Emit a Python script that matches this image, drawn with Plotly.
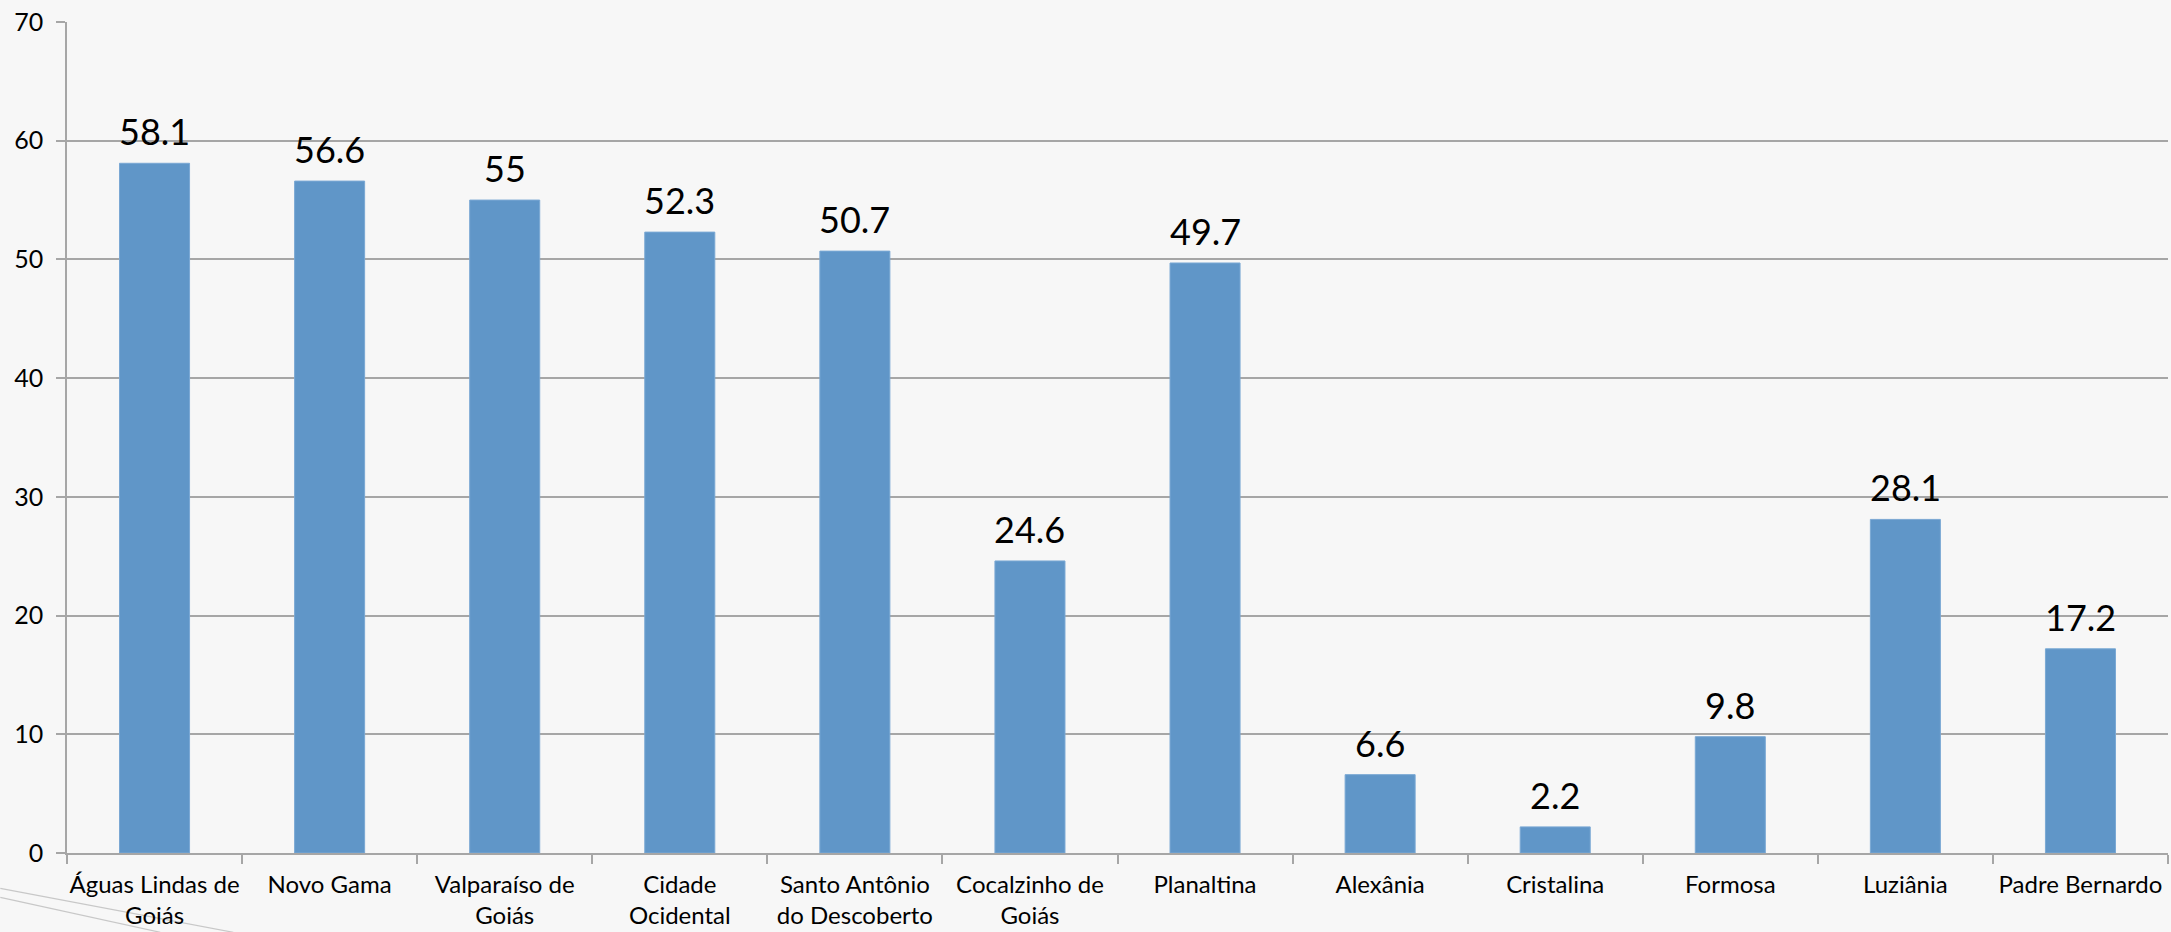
import plotly.graph_objects as go

categories = ["Águas Lindas de Goiás", "Novo Gama", "Valparaíso de Goiás", "Cidade Ocidental",
              "Santo Antônio do Descoberto", "Cocalzinho de Goiás", "Planaltina", "Alexânia",
              "Cristalina", "Formosa", "Luziânia", "Padre Bernardo"]
tick_labels = ["Águas Lindas de<br>Goiás", "Novo Gama", "Valparaíso de<br>Goiás", "Cidade<br>Ocidental",
               "Santo Antônio<br>do Descoberto", "Cocalzinho de<br>Goiás", "Planaltina", "Alexânia",
               "Cristalina", "Formosa", "Luziânia", "Padre Bernardo"]
values = [58.1, 56.6, 55, 52.3, 50.7, 24.6, 49.7, 6.6, 2.2, 9.8, 28.1, 17.2]
y_ticks = [0, 10, 20, 30, 40, 50, 60, 70]

FONT = "Lato"
BAR = "#6096c8"
GRID = "#a6a6a6"

fig = go.Figure()
fig.add_trace(go.Bar(x=categories, y=values, marker=dict(color=BAR, line=dict(color="#7aa8d4", width=1)),
                     width=0.4, hoverinfo="x+y"))

for c, v in zip(categories, values):
    fig.add_annotation(x=c, y=v, text=f"{v:g}", showarrow=False, yanchor="bottom",
                       yshift=8, font=dict(family=FONT, size=36, color="#000000"))

# decorative slide lines (bottom-left)
W, H = 2171, 932
L, R, T, B = 66.7, 3, 22, 79.3
pw, ph = W - L - R, H - T - B
def px(x): return (x - L) / pw
def py(y): return (H - B - y) / ph
for (x0, y0, x1, y1) in [(0, 888, 233, 932), (0, 897, 160, 932)]:
    fig.add_shape(type="line", xref="paper", yref="paper", x0=px(x0), y0=py(y0), x1=px(x1), y1=py(y1),
                  line=dict(color="#c8c8c8", width=1.2), layer="below")

fig.update_layout(
    width=W, height=H,
    margin=dict(l=L, r=R, t=T, b=B, pad=0),
    paper_bgcolor="#f7f7f7", plot_bgcolor="#f7f7f7",
    showlegend=False,
    font=dict(family=FONT, size=24, color="#000000"),
    bargap=0.6,
)
fig.update_xaxes(tickmode="array", tickvals=categories, ticktext=tick_labels,
                 tickson="boundaries", ticks="outside", ticklen=9, tickwidth=1.5, tickcolor=GRID,
                 showline=True, linecolor=GRID, linewidth=1.5, showgrid=False, ticklabelstandoff=9,
                 tickfont=dict(family=FONT, size=24, color="#000000"), tickangle=0)
fig.update_yaxes(range=[0, 70], tickvals=y_ticks, ticks="outside", ticklen=9, tickwidth=1.5, tickcolor=GRID,
                 showline=True, linecolor=GRID, linewidth=1.5, showgrid=True, gridcolor=GRID, gridwidth=1.5,
                 zeroline=False, ticklabelstandoff=8,
                 tickfont=dict(family=FONT, size=25, color="#000000"))

fig.write_html("out.html")
